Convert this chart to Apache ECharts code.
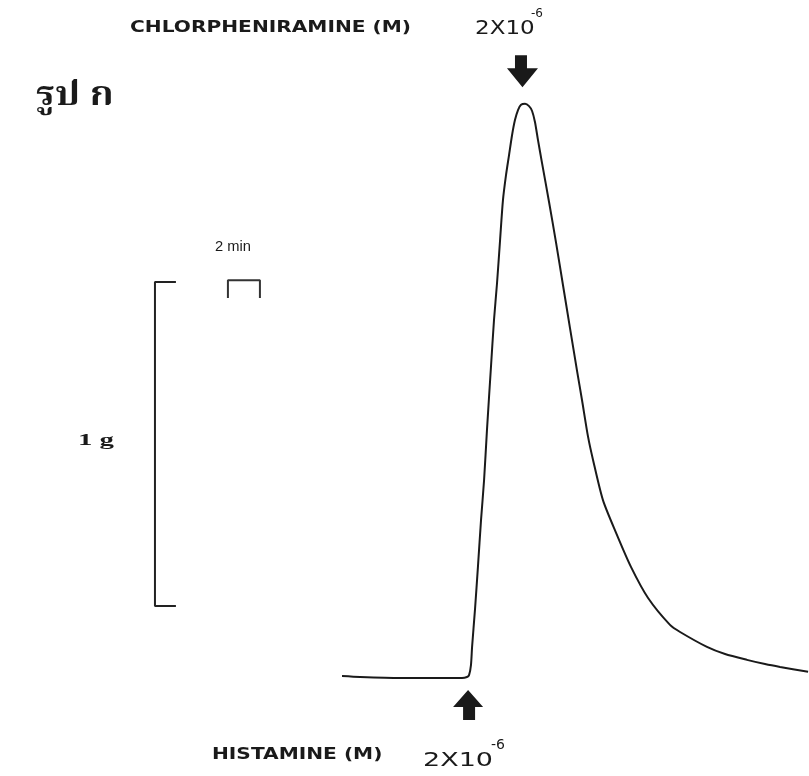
<!DOCTYPE html>
<html>
<head>
<meta charset="utf-8">
<script src="https://cdn.jsdelivr.net/npm/echarts@6/dist/echarts.min.js"></script>
<style>
html,body{margin:0;padding:0;background:#fff;}
#chart{width:809px;height:776px;}
</style>
</head>
<body>
<div id="chart"></div>
<script>
// Tension trace: time (min) vs tension (g)
const traceTime = [0, 1.13, 3.63, 6.13, 7.5, 7.81, 7.94, 8.06, 8.13, 8.31, 8.5, 8.69, 8.88, 9.06, 9.31, 9.5, 9.69, 9.88, 10.06,
  10.25, 10.44, 10.63, 10.81, 11.0, 11.19, 11.44, 11.69, 11.88, 12.06, 12.25, 12.5, 12.94, 13.38, 13.81,
  14.25, 14.69, 15.0, 15.38, 15.69, 16.31, 17.13, 18.06, 19.13, 20.5, 21.13, 22.81, 23.94, 25.31, 26.44,
  27.38, 29.13];
const traceTension = [0.006, 0.003, 0, 0, 0, 0.003, 0.009, 0.040, 0.096, 0.210, 0.346, 0.488, 0.611, 0.765, 0.960, 1.105, 1.219, 1.352, 1.475,
  1.552, 1.614, 1.676, 1.722, 1.753, 1.769, 1.772, 1.765, 1.750, 1.716, 1.660, 1.590, 1.469, 1.343, 1.213,
  1.080, 0.948, 0.858, 0.744, 0.673, 0.549, 0.448, 0.343, 0.247, 0.164, 0.142, 0.096, 0.074, 0.056, 0.043,
  0.034, 0.019];

// Drug additions (time in min, arrow position in g)
const histamineTime = 7.88, histamineArrowG = -0.083;
const chlorTime = 11.28, chlorArrowG = 1.873;

// Calibration bars: 1 g (vertical) and 2 min (horizontal)
const gBarTime = -11.69, gBarTickEnd = -10.38, gBarTop = 1.222, gBarBottom = 0.222;
const minBarStart = -7.13, minBarEnd = -5.13, minBarTop = 1.228, minBarLeg = 1.173;

// Labels
const titleThai = 'รูป ก';
const topLabel = 'CHLORPHENIRAMINE (M)';
const bottomLabel = 'HISTAMINE (M)';
const doseBase = '2X10';
const doseExp = '-6';
const timeBarLabel = '2 min';
const gBarLabel = '1 g';

const trace = traceTime.map((t, i) => [t, traceTension[i]]);
const gBar = [[gBarTickEnd, gBarTop], [gBarTime, gBarTop], [gBarTime, gBarBottom], [gBarTickEnd, gBarBottom]];
const minBar = [[minBarStart, minBarLeg], [minBarStart, minBarTop], [minBarEnd, minBarTop], [minBarEnd, minBarLeg]];

const chart = echarts.init(document.getElementById('chart'), null, {renderer: 'canvas'});
const labFont = 'DejaVu Sans, Liberation Sans, sans-serif';
function txt(text, x, y, size, weight, sx, family) {
  return {type: 'text', x: x, y: y, scaleX: sx || 1, style: {text: text, fill: '#1a1a1a',
    font: (weight || 'normal') + ' ' + size + 'px ' + (family || labFont), textAlign: 'left', textVerticalAlign: 'middle'}};
}
chart.setOption({
  backgroundColor: '#ffffff',
  animation: false,
  grid: {left: 0, right: 0, top: 0, bottom: 0},
  xAxis: {type: 'value', min: -21.375, max: 29.1875, show: false},
  yAxis: {type: 'value', min: -0.3025, max: 2.0926, show: false},
  series: [
    {type: 'line', data: trace, smooth: 0.25, symbol: 'none', lineStyle: {color: '#1a1a1a', width: 2}},
    {type: 'line', data: gBar, symbol: 'none', lineStyle: {color: '#222', width: 2}},
    {type: 'line', data: minBar, symbol: 'none', lineStyle: {color: '#333', width: 2}},
    {type: 'scatter', data: [[chlorTime, chlorArrowG]], symbol: 'path://M8,0 L20,0 L20,13 L31,13 L15.5,32 L0,13 L8,13 Z',
      symbolSize: [31, 32], itemStyle: {color: '#1a1a1a', opacity: 1}},
    {type: 'scatter', data: [[histamineTime, histamineArrowG]], symbol: 'path://M15,0 L30,17 L22,17 L22,30 L10,30 L10,17 L0,17 Z',
      symbolSize: [30, 30], itemStyle: {color: '#1a1a1a', opacity: 1}}
  ],
  graphic: [
    txt(titleThai, 36, 100, 33, 'bold', 1.15, 'Noto Serif Thai, Noto Sans Thai, Loma, Garuda, Norasi, DejaVu Serif, serif'),
    txt(topLabel, 130, 28, 16, 'bold', 1.26),
    txt(doseBase, 475, 29, 20, 'normal', 1.15),
    txt(doseExp, 531, 14, 12, 'normal', 1),
    txt(timeBarLabel, 215, 247, 14, 'normal', 1.05, 'Liberation Sans, Arial, sans-serif'),
    txt(gBarLabel, 78, 441, 16, 'bold', 1.8, 'Liberation Serif, DejaVu Serif, serif'),
    txt(bottomLabel, 212, 755, 16, 'bold', 1.26),
    txt(doseBase, 423, 761, 20, 'normal', 1.35),
    txt(doseExp, 491, 745, 14, 'normal', 1)
  ]
});
</script>
</body>
</html>
